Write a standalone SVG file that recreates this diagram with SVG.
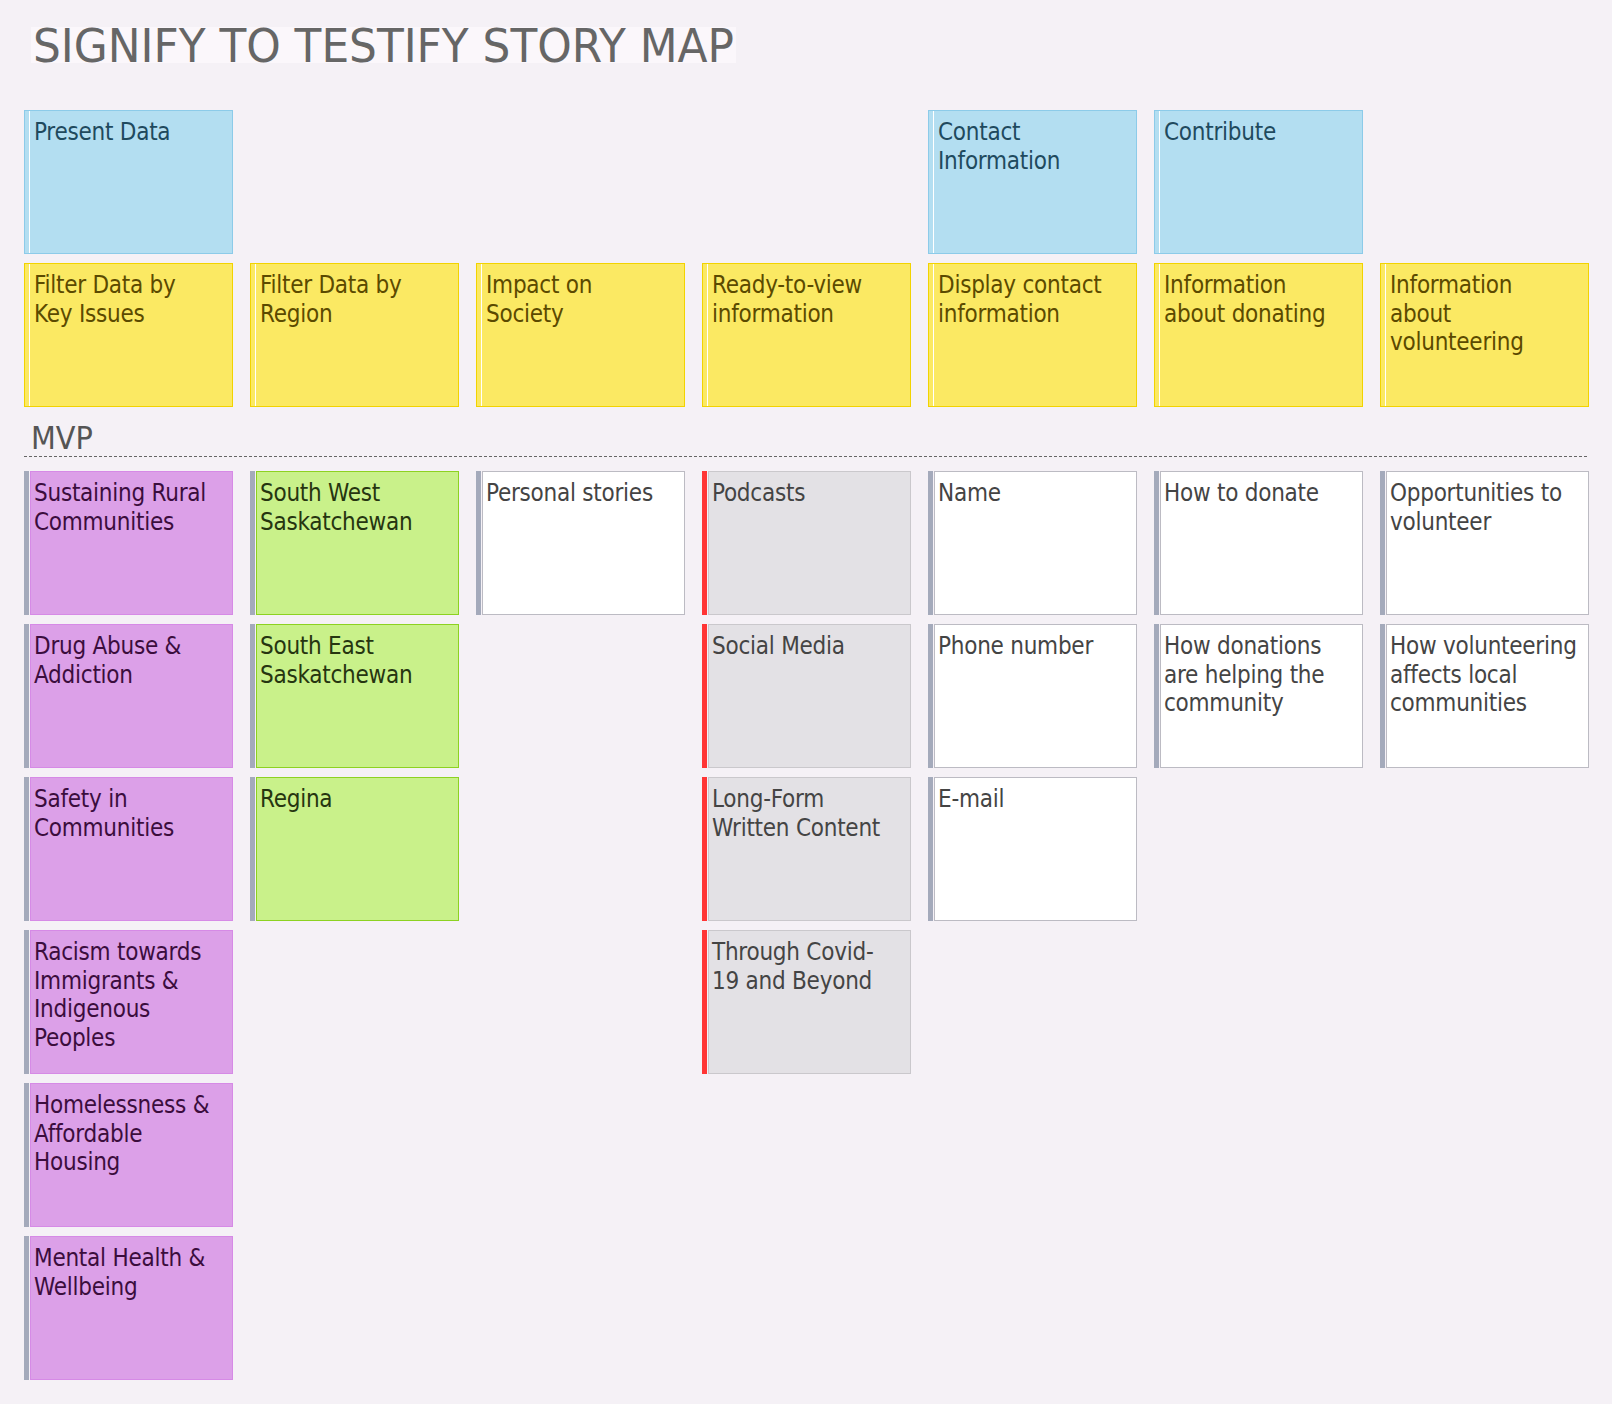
<svg xmlns="http://www.w3.org/2000/svg" width="1612" height="1404" viewBox="0 0 1612 1404">
<defs>
<style>
text{font-family:"DejaVu Sans Condensed","DejaVu Sans",sans-serif;font-stretch:condensed;}
.t{font-size:24px;letter-spacing:-0.25px;}
.title{font-size:46px;fill:#666666;}
.mvp{font-size:32px;fill:#555555;}
.blue .b{fill:#b3def1;stroke:#8ccbe9;stroke-width:1;}
.blue text{fill:#1f4a5e;}
.yel .b{fill:#fbe963;stroke:#f2d300;stroke-width:1;}
.yel text{fill:#5b4a00;}
.wl{stroke:#ffffff;stroke-width:1;}
.pur .b{fill:#dca0e8;stroke:#d68ae6;stroke-width:1;}
.pur text{fill:#3b0d3d;}
.grn .b{fill:#c9f18a;stroke:#8dd221;stroke-width:1;}
.grn text{fill:#263510;}
.gry .b{fill:#e3e1e5;stroke:#cac8cc;stroke-width:1;}
.gry text{fill:#444444;}
.wht .b{fill:#ffffff;stroke:#bcbbc3;stroke-width:1;}
.wht text{fill:#444444;}
.sg{fill:#a4aabb;}
.sr{fill:#ff3535;}
</style>
</defs>
<rect x="0" y="0" width="1612" height="1404" fill="#f5f1f6"/>
<rect x="31" y="27" width="705" height="36" fill="#fbf7fb"/>
<text class="title" x="33" y="62" textLength="701" lengthAdjust="spacingAndGlyphs">SIGNIFY TO TESTIFY STORY MAP</text>
<text class="mvp" x="31" y="449">MVP</text>
<line x1="24" y1="456.5" x2="1587" y2="456.5" stroke="#666666" stroke-width="1" stroke-dasharray="3 2"/>
<g id="connectors"/>

<!-- Activities (blue) -->
<g id="present-data" class="blue"><rect class="b" x="24.5" y="110.5" width="208" height="143"/><line class="wl" x1="29.5" y1="111" x2="29.5" y2="253"/><text class="t" x="34" y="140">Present Data</text></g>
<g id="contact-information" class="blue"><rect class="b" x="928.5" y="110.5" width="208" height="143"/><line class="wl" x1="933.5" y1="111" x2="933.5" y2="253"/><text class="t" x="938" y="140"><tspan x="938">Contact</tspan><tspan x="938" dy="28.7">Information</tspan></text></g>
<g id="contribute" class="blue"><rect class="b" x="1154.5" y="110.5" width="208" height="143"/><line class="wl" x1="1159.5" y1="111" x2="1159.5" y2="253"/><text class="t" x="1164" y="140">Contribute</text></g>

<!-- Tasks (yellow) -->
<g id="filter-key-issues" class="yel"><rect class="b" x="24.5" y="263.5" width="208" height="143"/><line class="wl" x1="29.5" y1="264" x2="29.5" y2="406"/><text class="t" x="34" y="293"><tspan x="34">Filter Data by</tspan><tspan x="34" dy="28.7">Key Issues</tspan></text></g>
<g id="filter-region" class="yel"><rect class="b" x="250.5" y="263.5" width="208" height="143"/><line class="wl" x1="255.5" y1="264" x2="255.5" y2="406"/><text class="t" x="260" y="293"><tspan x="260">Filter Data by</tspan><tspan x="260" dy="28.7">Region</tspan></text></g>
<g id="impact-society" class="yel"><rect class="b" x="476.5" y="263.5" width="208" height="143"/><line class="wl" x1="481.5" y1="264" x2="481.5" y2="406"/><text class="t" x="486" y="293"><tspan x="486">Impact on</tspan><tspan x="486" dy="28.7">Society</tspan></text></g>
<g id="ready-to-view" class="yel"><rect class="b" x="702.5" y="263.5" width="208" height="143"/><line class="wl" x1="707.5" y1="264" x2="707.5" y2="406"/><text class="t" x="712" y="293"><tspan x="712">Ready-to-view</tspan><tspan x="712" dy="28.7">information</tspan></text></g>
<g id="display-contact" class="yel"><rect class="b" x="928.5" y="263.5" width="208" height="143"/><line class="wl" x1="933.5" y1="264" x2="933.5" y2="406"/><text class="t" x="938" y="293"><tspan x="938">Display contact</tspan><tspan x="938" dy="28.7">information</tspan></text></g>
<g id="info-donating" class="yel"><rect class="b" x="1154.5" y="263.5" width="208" height="143"/><line class="wl" x1="1159.5" y1="264" x2="1159.5" y2="406"/><text class="t" x="1164" y="293"><tspan x="1164">Information</tspan><tspan x="1164" dy="28.7">about donating</tspan></text></g>
<g id="info-volunteering" class="yel"><rect class="b" x="1380.5" y="263.5" width="208" height="143"/><line class="wl" x1="1385.5" y1="264" x2="1385.5" y2="406"/><text class="t" x="1390" y="293"><tspan x="1390">Information</tspan><tspan x="1390" dy="28.7">about</tspan><tspan x="1390" dy="28.7">volunteering</tspan></text></g>

<!-- Column 1 (purple) -->
<g id="sustaining-rural" class="pur"><rect class="sg" x="24" y="471" width="5" height="144"/><rect class="b" x="30.5" y="471.5" width="202" height="143"/><text class="t" x="34" y="501"><tspan x="34">Sustaining Rural</tspan><tspan x="34" dy="28.7">Communities</tspan></text></g>
<g id="drug-abuse" class="pur"><rect class="sg" x="24" y="624" width="5" height="144"/><rect class="b" x="30.5" y="624.5" width="202" height="143"/><text class="t" x="34" y="654"><tspan x="34">Drug Abuse &amp;</tspan><tspan x="34" dy="28.7">Addiction</tspan></text></g>
<g id="safety" class="pur"><rect class="sg" x="24" y="777" width="5" height="144"/><rect class="b" x="30.5" y="777.5" width="202" height="143"/><text class="t" x="34" y="807"><tspan x="34">Safety in</tspan><tspan x="34" dy="28.7">Communities</tspan></text></g>
<g id="racism" class="pur"><rect class="sg" x="24" y="930" width="5" height="144"/><rect class="b" x="30.5" y="930.5" width="202" height="143"/><text class="t" x="34" y="960"><tspan x="34">Racism towards</tspan><tspan x="34" dy="28.7">Immigrants &amp;</tspan><tspan x="34" dy="28.7">Indigenous</tspan><tspan x="34" dy="28.7">Peoples</tspan></text></g>
<g id="homelessness" class="pur"><rect class="sg" x="24" y="1083" width="5" height="144"/><rect class="b" x="30.5" y="1083.5" width="202" height="143"/><text class="t" x="34" y="1113"><tspan x="34">Homelessness &amp;</tspan><tspan x="34" dy="28.7">Affordable</tspan><tspan x="34" dy="28.7">Housing</tspan></text></g>
<g id="mental-health" class="pur"><rect class="sg" x="24" y="1236" width="5" height="144"/><rect class="b" x="30.5" y="1236.5" width="202" height="143"/><text class="t" x="34" y="1266"><tspan x="34">Mental Health &amp;</tspan><tspan x="34" dy="28.7">Wellbeing</tspan></text></g>

<!-- Column 2 (green) -->
<g id="south-west" class="grn"><rect class="sg" x="250" y="471" width="5" height="144"/><rect class="b" x="256.5" y="471.5" width="202" height="143"/><text class="t" x="260" y="501"><tspan x="260">South West</tspan><tspan x="260" dy="28.7">Saskatchewan</tspan></text></g>
<g id="south-east" class="grn"><rect class="sg" x="250" y="624" width="5" height="144"/><rect class="b" x="256.5" y="624.5" width="202" height="143"/><text class="t" x="260" y="654"><tspan x="260">South East</tspan><tspan x="260" dy="28.7">Saskatchewan</tspan></text></g>
<g id="regina" class="grn"><rect class="sg" x="250" y="777" width="5" height="144"/><rect class="b" x="256.5" y="777.5" width="202" height="143"/><text class="t" x="260" y="807">Regina</text></g>

<!-- Column 3 -->
<g id="personal-stories" class="wht"><rect class="sg" x="476" y="471" width="5" height="144"/><rect class="b" x="482.5" y="471.5" width="202" height="143"/><text class="t" x="486" y="501">Personal stories</text></g>

<!-- Column 4 (grey, red stripe) -->
<g id="podcasts" class="gry"><rect class="sr" x="702" y="471" width="5" height="144"/><rect class="b" x="708.5" y="471.5" width="202" height="143"/><text class="t" x="712" y="501">Podcasts</text></g>
<g id="social-media" class="gry"><rect class="sr" x="702" y="624" width="5" height="144"/><rect class="b" x="708.5" y="624.5" width="202" height="143"/><text class="t" x="712" y="654">Social Media</text></g>
<g id="long-form" class="gry"><rect class="sr" x="702" y="777" width="5" height="144"/><rect class="b" x="708.5" y="777.5" width="202" height="143"/><text class="t" x="712" y="807"><tspan x="712">Long-Form</tspan><tspan x="712" dy="28.7">Written Content</tspan></text></g>
<g id="covid" class="gry"><rect class="sr" x="702" y="930" width="5" height="144"/><rect class="b" x="708.5" y="930.5" width="202" height="143"/><text class="t" x="712" y="960"><tspan x="712">Through Covid-</tspan><tspan x="712" dy="28.7">19 and Beyond</tspan></text></g>

<!-- Column 5 -->
<g id="name" class="wht"><rect class="sg" x="928" y="471" width="5" height="144"/><rect class="b" x="934.5" y="471.5" width="202" height="143"/><text class="t" x="938" y="501">Name</text></g>
<g id="phone" class="wht"><rect class="sg" x="928" y="624" width="5" height="144"/><rect class="b" x="934.5" y="624.5" width="202" height="143"/><text class="t" x="938" y="654">Phone number</text></g>
<g id="email" class="wht"><rect class="sg" x="928" y="777" width="5" height="144"/><rect class="b" x="934.5" y="777.5" width="202" height="143"/><text class="t" x="938" y="807">E-mail</text></g>

<!-- Column 6 -->
<g id="how-to-donate" class="wht"><rect class="sg" x="1154" y="471" width="5" height="144"/><rect class="b" x="1160.5" y="471.5" width="202" height="143"/><text class="t" x="1164" y="501">How to donate</text></g>
<g id="how-donations" class="wht"><rect class="sg" x="1154" y="624" width="5" height="144"/><rect class="b" x="1160.5" y="624.5" width="202" height="143"/><text class="t" x="1164" y="654"><tspan x="1164">How donations</tspan><tspan x="1164" dy="28.7">are helping the</tspan><tspan x="1164" dy="28.7">community</tspan></text></g>

<!-- Column 7 -->
<g id="opportunities" class="wht"><rect class="sg" x="1380" y="471" width="5" height="144"/><rect class="b" x="1386.5" y="471.5" width="202" height="143"/><text class="t" x="1390" y="501"><tspan x="1390">Opportunities to</tspan><tspan x="1390" dy="28.7">volunteer</tspan></text></g>
<g id="how-volunteering" class="wht"><rect class="sg" x="1380" y="624" width="5" height="144"/><rect class="b" x="1386.5" y="624.5" width="202" height="143"/><text class="t" x="1390" y="654"><tspan x="1390">How volunteering</tspan><tspan x="1390" dy="28.7">affects local</tspan><tspan x="1390" dy="28.7">communities</tspan></text></g>
</svg>
